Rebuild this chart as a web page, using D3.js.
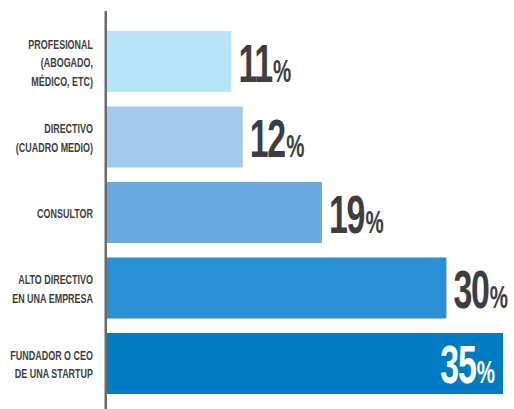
<!DOCTYPE html>
<html>
<head>
<meta charset="utf-8">
<script src="https://cdn.jsdelivr.net/npm/d3@7"></script>
<style>
  html, body { margin: 0; padding: 0; background: #fff; }
  svg { display: block; }
</style>
</head>
<body>
<svg id="chart" width="514" height="409"></svg>
<script>
// Profile of respondents, share in percent
const categories = [
  ["PROFESIONAL", "(ABOGADO,", "MÉDICO, ETC)"],
  ["DIRECTIVO", "(CUADRO MEDIO)"],
  ["CONSULTOR"],
  ["ALTO DIRECTIVO", "EN UNA EMPRESA"],
  ["FUNDADOR O CEO", "DE UNA STARTUP"]
];
const values = [11, 12, 19, 30, 35];
const barColors = ["#b9e5f9", "#a3c9eb", "#6aaadf", "#2b8fd3", "#007cc3"];
const insideLabel = [false, false, false, false, true];

const W = 514, H = 409;
const FONT = "'Liberation Sans', Arial, sans-serif";
const TEXT_COLOR = "#3e3e40";

const svg = d3.select("#chart");

const keys = categories.map((c, i) => i);
const y = d3.scaleBand().domain(keys).range([31, 394]).paddingInner(0.192).paddingOuter(0);
const x = d3.scaleLinear().domain([0, 35]).range([107, 503]);

// bars
svg.append("g").selectAll("rect")
  .data(values)
  .join("rect")
  .attr("x", x(0))
  .attr("y", (d, i) => y(i))
  .attr("width", d => x(d) - x(0))
  .attr("height", y.bandwidth())
  .attr("fill", (d, i) => barColors[i]);

// vertical axis line
svg.append("line")
  .attr("x1", 105.75).attr("x2", 105.75)
  .attr("y1", 11).attr("y2", H)
  .attr("stroke", "#6a6a6a")
  .attr("stroke-width", 2.5);

// category labels, right-aligned, condensed
const lineH = 18.5;
const catG = svg.append("g");
categories.forEach((lines, i) => {
  const cy = y(i) + y.bandwidth() / 2 + 1;
  const firstBase = cy - (lines.length - 1) * lineH / 2 + 4.7;
  const g = catG.append("g")
    .attr("transform", `translate(93,${firstBase}) scale(0.69,1)`);
  const t = g.append("text")
    .attr("text-anchor", "end")
    .attr("font-family", FONT)
    .attr("font-weight", "bold")
    .attr("font-size", 13)
    .attr("fill", TEXT_COLOR);
  lines.forEach((ln, j) => {
    t.append("tspan").attr("x", 0).attr("y", j * lineH).text(ln);
  });
});

// value labels
const valG = svg.append("g");
values.forEach((v, i) => {
  const base = y(i) + y.bandwidth() / 2 + 20;
  const inside = insideLabel[i];
  const px = inside ? x(v) - 8 : x(v) + 7;
  const g = valG.append("g")
    .attr("transform", `translate(${px},${base}) scale(0.64,1)`);
  const t = g.append("text")
    .attr("text-anchor", inside ? "end" : "start")
    .attr("font-family", FONT)
    .attr("font-weight", "bold")
    .attr("fill", inside ? "#ffffff" : TEXT_COLOR);
  t.append("tspan").attr("font-size", 53).attr("letter-spacing", -2).text(v);
  t.append("tspan").attr("font-size", 32).attr("dx", 2).text("%");
});
</script>
</body>
</html>
